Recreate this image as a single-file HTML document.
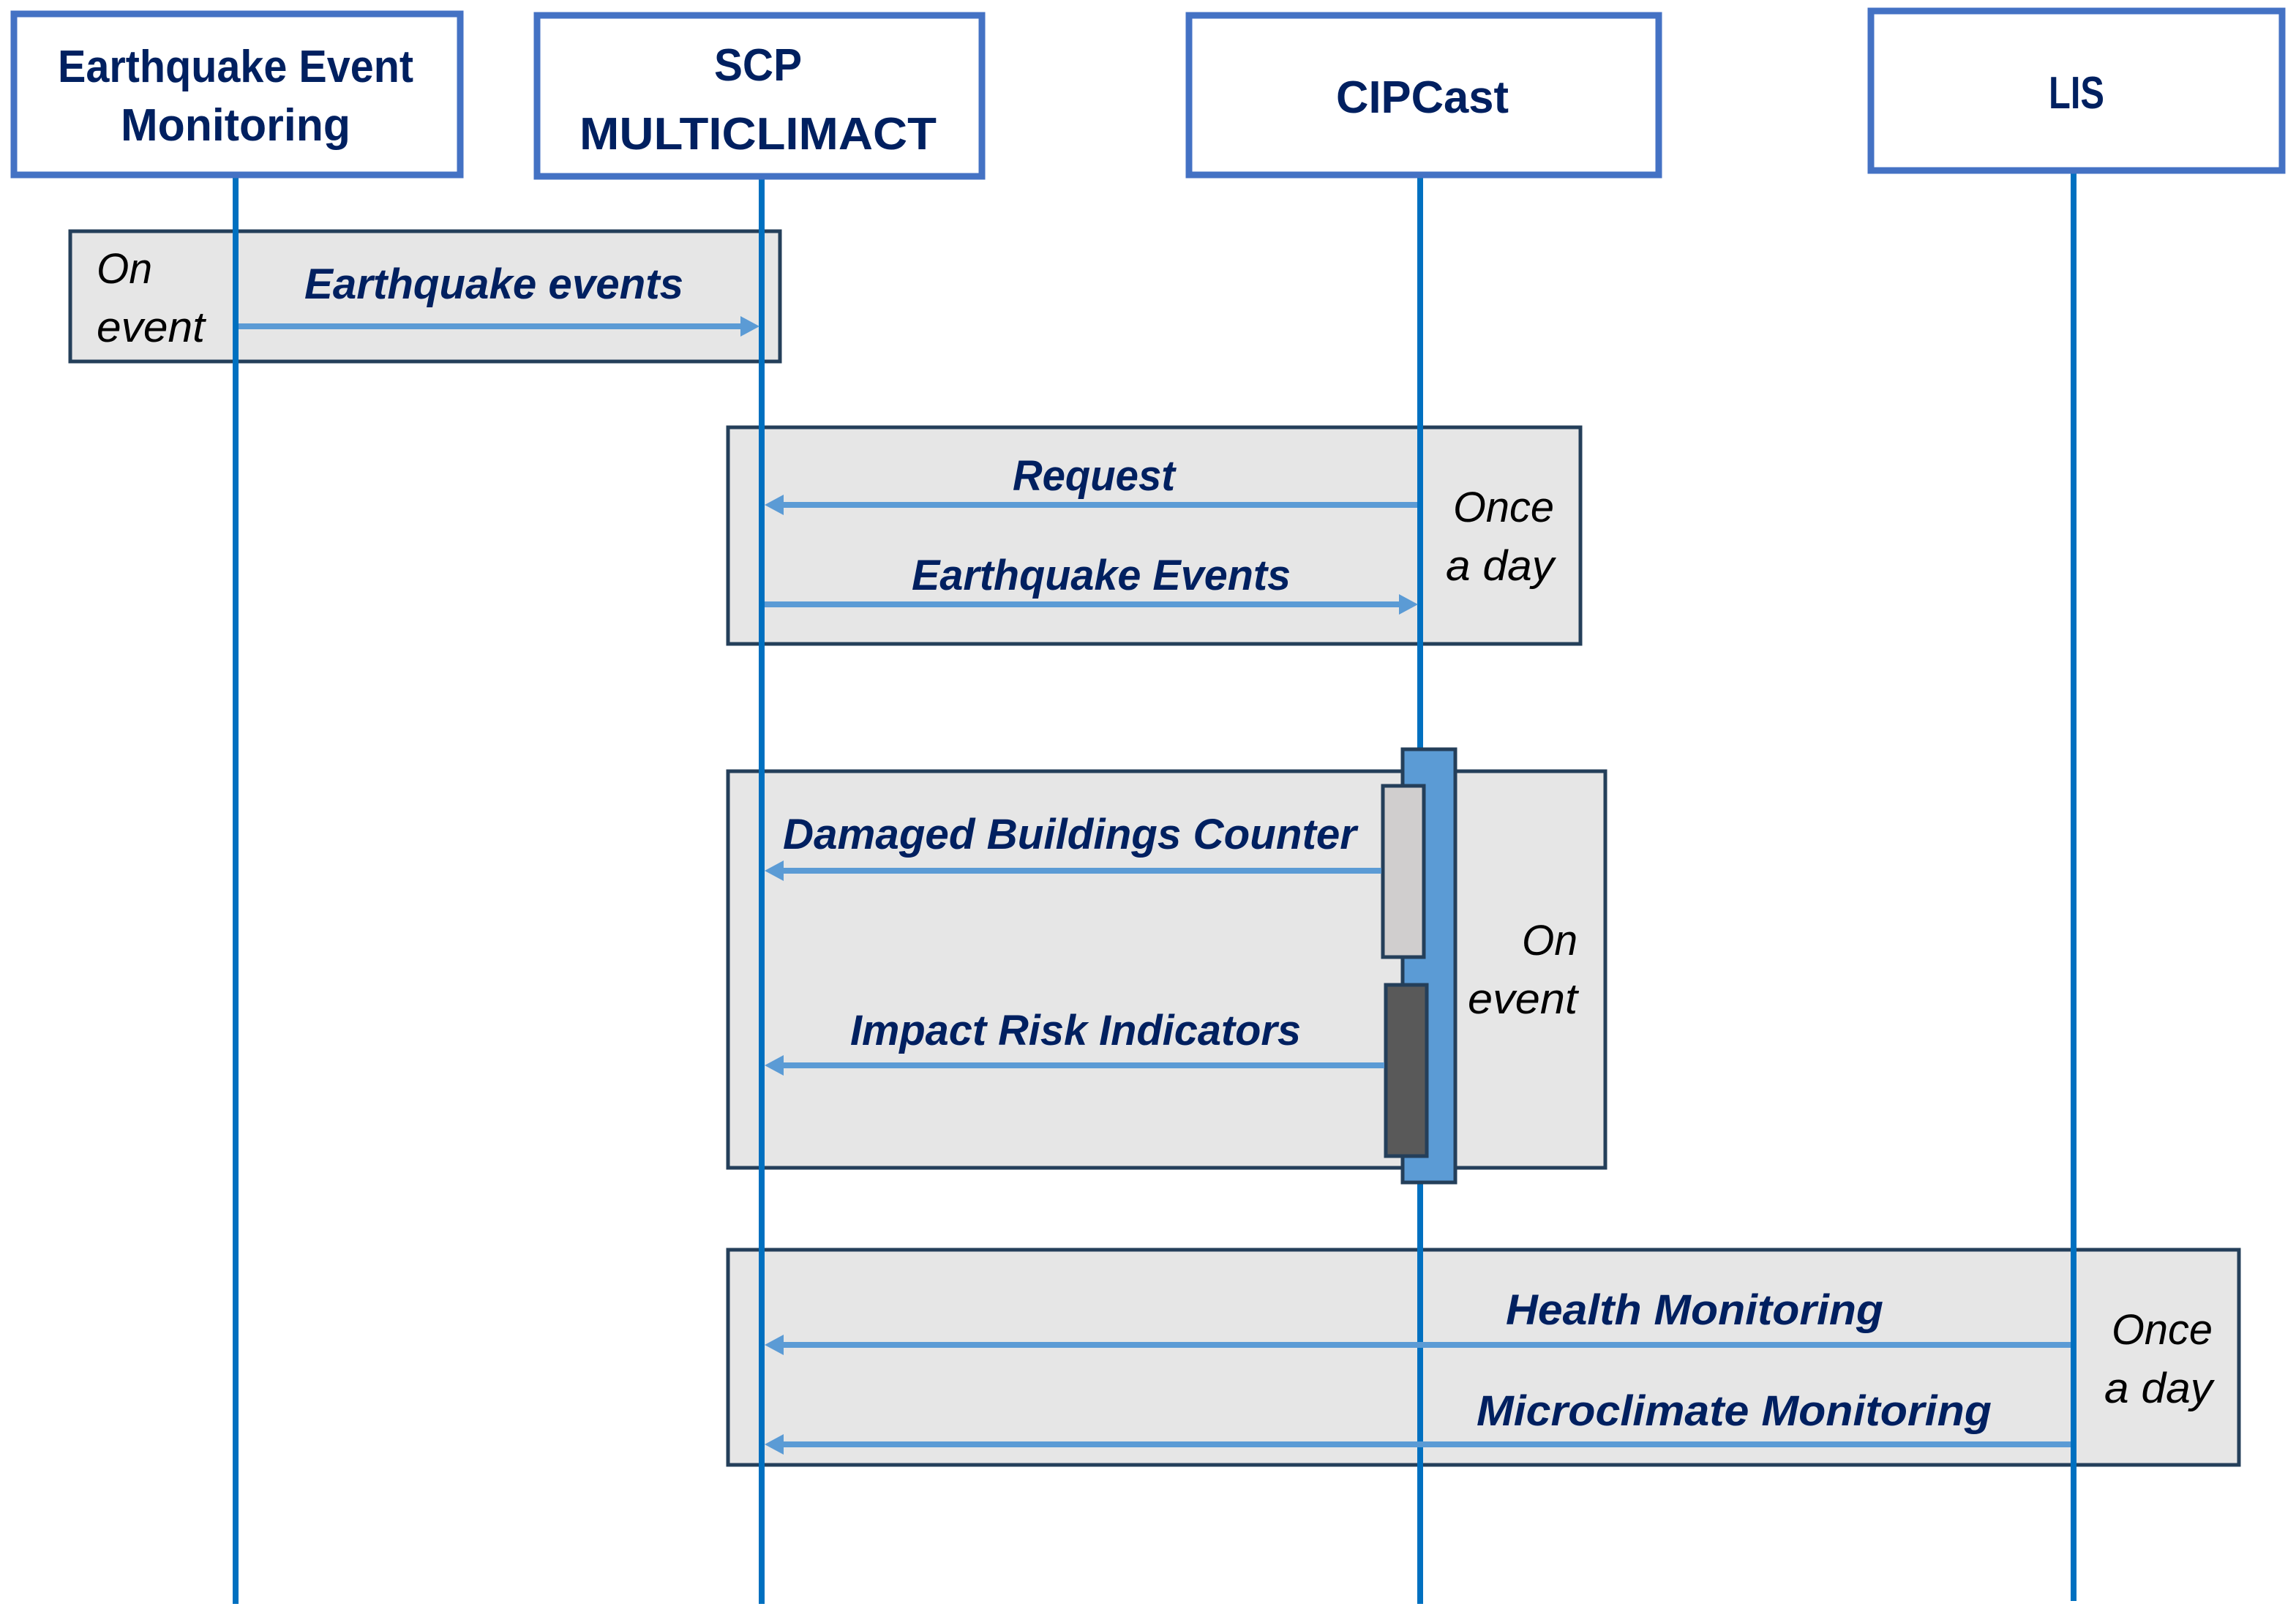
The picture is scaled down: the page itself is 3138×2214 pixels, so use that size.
<!DOCTYPE html>
<html><head><meta charset="utf-8"><style>
html,body{margin:0;padding:0;background:#fff;}
svg{display:block;}
.h{font-family:"Liberation Sans",sans-serif;font-weight:bold;fill:#002060;font-size:62px;}
.m{font-family:"Liberation Sans",sans-serif;font-weight:bold;font-style:italic;fill:#002060;font-size:58px;}
.n{font-family:"Liberation Sans",sans-serif;font-style:italic;fill:#000;font-size:58px;}
</style></head><body>
<svg width="3138" height="2214" viewBox="0 0 3138 2214" xmlns="http://www.w3.org/2000/svg">
<rect width="3138" height="2214" fill="#fff"/>
<g fill="#e6e6e6" stroke="#243f5a" stroke-width="5">
<rect x="96" y="316" width="970" height="178"/>
<rect x="995" y="584" width="1165" height="296"/>
<rect x="995" y="1054" width="1199" height="542"/>
<rect x="995" y="1708" width="2065" height="294"/>
</g>
<g stroke="#0070c0" stroke-width="8">
<line x1="322" y1="236" x2="322" y2="2192"/>
<line x1="1041" y1="236" x2="1041" y2="2192"/>
<line x1="1941" y1="236" x2="1941" y2="2192"/>
<line x1="2834" y1="232" x2="2834" y2="2188"/>
</g>
<g fill="#fff" stroke="#4472c4" stroke-width="9">
<rect x="19" y="19" width="610" height="220"/>
<rect x="734" y="21" width="608" height="220"/>
<rect x="1625" y="21" width="642" height="218"/>
<rect x="2557" y="15" width="562" height="218"/>
</g>
<text class="h" x="322" y="112" text-anchor="middle" textLength="486" lengthAdjust="spacingAndGlyphs">Earthquake Event</text>
<text class="h" x="322" y="192" text-anchor="middle" textLength="314" lengthAdjust="spacingAndGlyphs">Monitoring</text>
<text class="h" x="1036" y="110" text-anchor="middle" textLength="120" lengthAdjust="spacingAndGlyphs">SCP</text>
<text class="h" x="1036" y="204" text-anchor="middle" textLength="488" lengthAdjust="spacingAndGlyphs">MULTICLIMACT</text>
<text class="h" x="1944" y="154" text-anchor="middle" textLength="236" lengthAdjust="spacingAndGlyphs">CIPCast</text>
<text class="h" x="2838" y="148" text-anchor="middle" textLength="76" lengthAdjust="spacingAndGlyphs">LIS</text>
<rect x="1917" y="1024" width="72" height="592" fill="#5b9bd5" stroke="#243f5a" stroke-width="5"/>
<rect x="1890" y="1074" width="56" height="234" fill="#d0cece" stroke="#243f5a" stroke-width="5"/>
<rect x="1894" y="1346" width="56" height="234" fill="#595959" stroke="#243f5a" stroke-width="5"/>
<g stroke="#5b9bd5" stroke-width="8">
<line x1="326" y1="446" x2="1014" y2="446"/>
<line x1="1937" y1="690" x2="1068" y2="690"/>
<line x1="1045" y1="826" x2="1914" y2="826"/>
<line x1="1888" y1="1190" x2="1068" y2="1190"/>
<line x1="1892" y1="1456" x2="1068" y2="1456"/>
<line x1="2830" y1="1838" x2="1068" y2="1838"/>
<line x1="2830" y1="1974" x2="1068" y2="1974"/>
</g>
<g fill="#5b9bd5">
<polygon points="1038,446 1012,432 1012,460"/>
<polygon points="1045,690 1071,676 1071,704"/>
<polygon points="1938,826 1912,812 1912,840"/>
<polygon points="1045,1190 1071,1176 1071,1204"/>
<polygon points="1045,1456 1071,1442 1071,1470"/>
<polygon points="1045,1838 1071,1824 1071,1852"/>
<polygon points="1045,1974 1071,1960 1071,1988"/>
</g>
<text class="m" x="416" y="408" textLength="518" lengthAdjust="spacingAndGlyphs">Earthquake events</text>
<text class="m" x="1384" y="670" textLength="222" lengthAdjust="spacingAndGlyphs">Request</text>
<text class="m" x="1246" y="806" textLength="518" lengthAdjust="spacingAndGlyphs">Earthquake Events</text>
<text class="m" x="1070" y="1160" textLength="784" lengthAdjust="spacingAndGlyphs">Damaged Buildings Counter</text>
<text class="m" x="1162" y="1428" textLength="616" lengthAdjust="spacingAndGlyphs">Impact Risk Indicators</text>
<text class="m" x="2058" y="1810" textLength="516" lengthAdjust="spacingAndGlyphs">Health Monitoring</text>
<text class="m" x="2018" y="1948" textLength="704" lengthAdjust="spacingAndGlyphs">Microclimate Monitoring</text>
<text class="n" x="132" y="387" textLength="76" lengthAdjust="spacingAndGlyphs">On</text>
<text class="n" x="132" y="467" textLength="148" lengthAdjust="spacingAndGlyphs">event</text>
<text class="n" x="1986" y="713" textLength="138" lengthAdjust="spacingAndGlyphs">Once</text>
<text class="n" x="1976" y="793" textLength="148" lengthAdjust="spacingAndGlyphs">a day</text>
<text class="n" x="2080" y="1305" textLength="76" lengthAdjust="spacingAndGlyphs">On</text>
<text class="n" x="2006" y="1385" textLength="150" lengthAdjust="spacingAndGlyphs">event</text>
<text class="n" x="2886" y="1837" textLength="138" lengthAdjust="spacingAndGlyphs">Once</text>
<text class="n" x="2876" y="1917" textLength="148" lengthAdjust="spacingAndGlyphs">a day</text>
</svg>
</body></html>
